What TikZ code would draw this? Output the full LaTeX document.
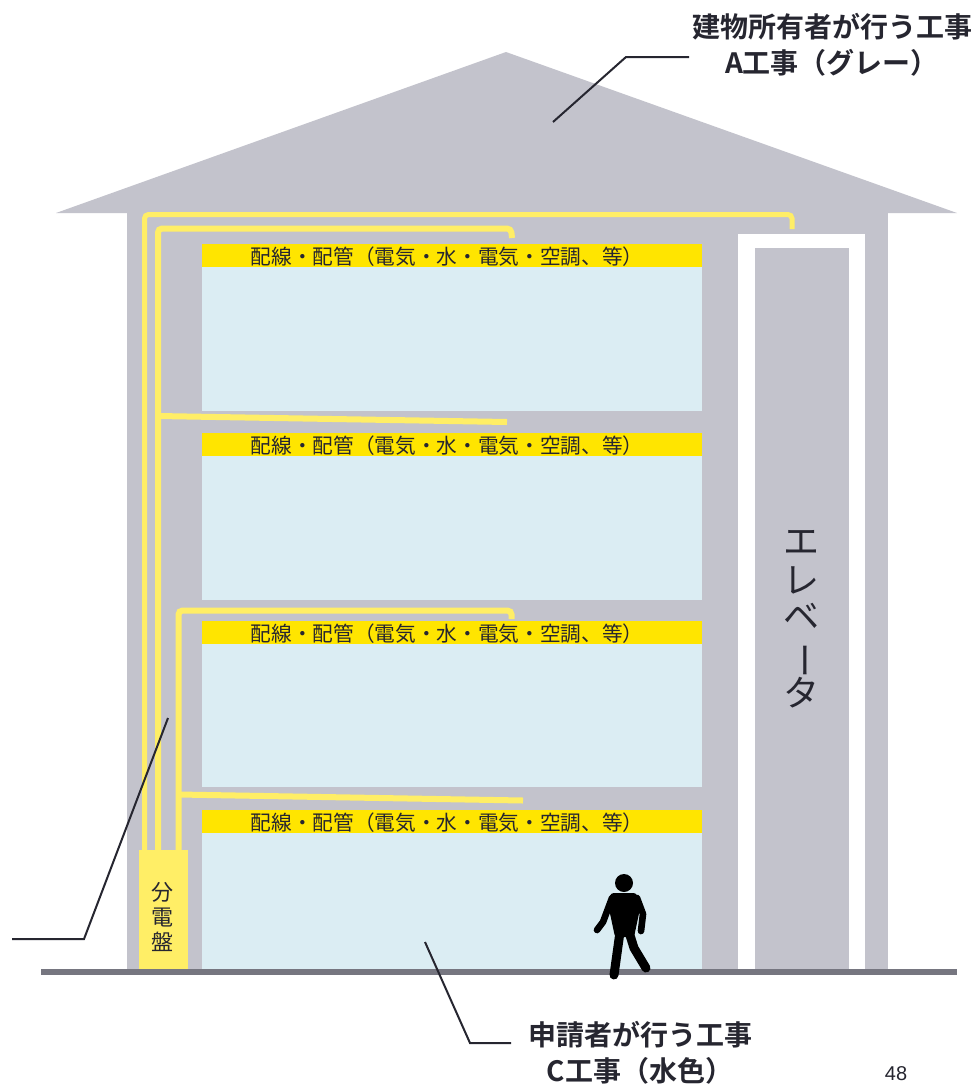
\documentclass[tikz,border=0pt]{standalone}
\usepackage{fontspec}
\newfontfamily\jp{Noto Sans CJK JP}[BoldFont={Noto Sans CJK JP Bold}]
\newfontfamily\numfont{Liberation Sans}
\definecolor{bgrey}{RGB}{195,195,204}
\definecolor{roomblue}{RGB}{219,237,243}
\definecolor{bandyellow}{RGB}{255,229,0}
\definecolor{pipeyellow}{RGB}{255,238,102}
\definecolor{groundgrey}{RGB}{118,118,128}
\definecolor{ink}{RGB}{38,38,48}
\tikzset{
  pipe/.style={draw=pipeyellow, line width=4.5pt, rounded corners=3pt},
  thinpipe/.style={draw=pipeyellow, line width=3.75pt, rounded corners=3pt},
  leader/.style={draw=ink, line width=1.5pt},
  bandtext/.style={font=\jp\fontsize{15.5}{15.5}\selectfont, text=ink, inner sep=0pt},
  labeltext/.style={font=\jp\bfseries\fontsize{21}{27}\selectfont, text=ink, align=center, inner sep=0pt},
  elevtext/.style={font=\jp\fontsize{27}{27}\selectfont, text=ink, inner sep=0pt},
  limb/.style={draw=black, line cap=round, line join=round},
}
\begin{document}
\begin{tikzpicture}[x=0.75pt,y=-0.75pt]
\useasboundingbox (0,0) rectangle (979,1086);
\fill[white] (0,0) rectangle (979,1086);

% roof and building body
\fill[bgrey] (56,213) -- (506,52) -- (957,213) -- cycle;
\fill[bgrey] (127,213) rectangle (888,970);

% elevator shaft
\fill[white] (738,234) rectangle (865,970);
\fill[bgrey] (755,248) rectangle (849,970);
\node[elevtext] (ev1) at (801,542) {エ};
\node[elevtext] (ev2) at (801,580) {レ};
\node[elevtext] (ev3) at (801,616) {ベ};
\node[elevtext, rotate=-90] (ev4) at (799,660) {ー};
\node[elevtext] (ev5) at (801,693) {タ};

% floors: wiring band on top of each room
\foreach \t/\b [count=\i] in {244/411, 432.5/599.5, 621/787, 809.5/970} {
  \fill[roomblue] (202,\t) rectangle (702,\b);
  \fill[bandyellow] (202,\t) rectangle (702,\t+23);
  \node[bandtext] (band\i) at (447,\t+13) {配線・配管（電気・水・電気・空調、等）};
}

% wiring runs from the distribution board
\draw[thinpipe] (144.5,852) -- (144.5,214.5) -- (792,214.5) -- (792,229);
\draw[pipe] (158,852) -- (158,228.5) -- (511,228.5) -- (512,238);
\draw[pipe] (158,416) -- (507,422);
\draw[pipe] (178.5,852) -- (178.5,610.5) -- (511.5,610.5) -- (511.5,619);
\draw[pipe] (178.5,794.5) -- (523,800.5);

% distribution board
\fill[pipeyellow] (139,850) rectangle (188,970);
\node[font=\jp\fontsize{16.5}{18.5}\selectfont, text=ink, align=center, inner sep=0pt] (board) at (162,917) {分\\電\\盤};

% ground
\fill[groundgrey] (41,969) rectangle (957,975);

% walking person
\fill[black] (624,883) circle (9);
\fill[black, rounded corners=2pt] (611,893) -- (636,893) -- (641,904) -- (634,937) -- (615,937) -- (608,904) -- cycle;
\draw[limb, line width=5pt] (612,898) -- (603,922) -- (597,930);
\draw[limb, line width=5pt] (637,898) -- (643,914) -- (641,931);
\draw[limb, line width=6.75pt] (620,932) -- (614,975);
\draw[limb, line width=6.75pt] (629,932) -- (634,948) -- (646,968);

% labels and leaders
\node[labeltext] (labelA) at (832,45) {建物所有者が行う工事\\A工事（グレー）};
\node[labeltext] (labelC) at (640,1053) {申請者が行う工事\\C工事（水色）};
\coordinate (roofpt) at (553,122);
\coordinate (roofbend) at (626,57);
\coordinate (roofend) at (689,57);
\draw[leader] (roofpt) -- (roofbend) -- (roofend);
\coordinate (wallpt) at (168,718);
\coordinate (wallbend) at (84,939);
\coordinate (wallend) at (12,939);
\draw[leader] (wallpt) -- (wallbend) -- (wallend);
\coordinate (roompt) at (425,942);
\coordinate (roombend) at (470,1043);
\coordinate (roomend) at (511,1043);
\draw[leader] (roompt) -- (roombend) -- (roomend);

\node[font=\numfont\fontsize{15}{15}\selectfont, text=ink, inner sep=0pt] (pageno) at (896,1074) {48};
\end{tikzpicture}
\end{document}
